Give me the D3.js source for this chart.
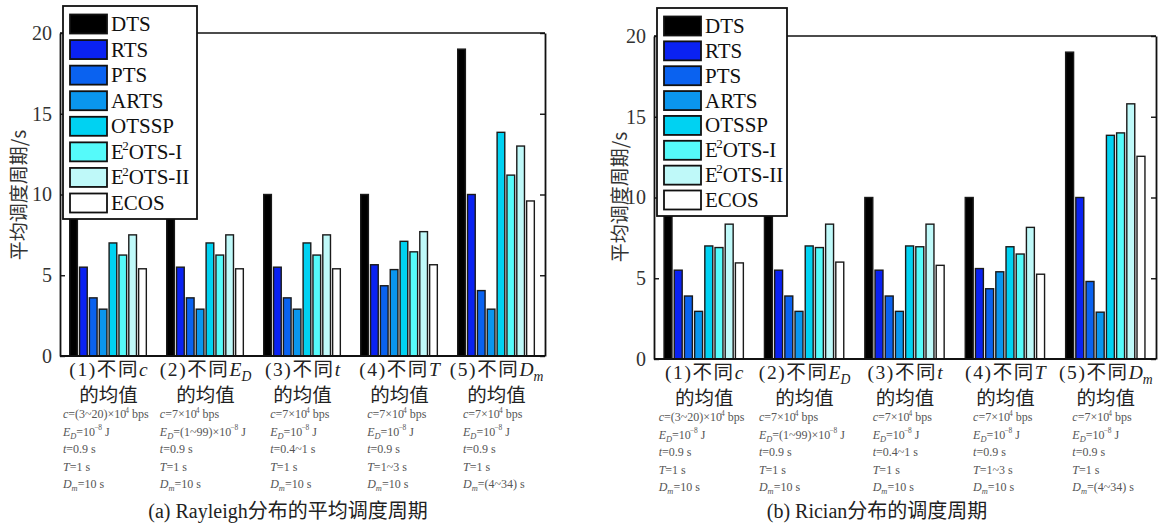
<!DOCTYPE html>
<html><head><meta charset="utf-8">
<script src="https://cdn.jsdelivr.net/npm/d3@7"></script>
<style>
html,body{margin:0;padding:0;background:#fff;}
svg{display:block;}
.serif{font-family:"Liberation Serif","Times New Roman","DejaVu Serif","Noto Sans CJK SC",serif;}
.cjk{font-family:"Noto Sans CJK SC","Liberation Serif",sans-serif;}
.it{font-style:italic;font-family:"Liberation Serif","Times New Roman","DejaVu Serif",serif;}
</style></head>
<body>
<svg id="chart" width="1162" height="525"></svg>
<script>
// ---------------- data ----------------
const seriesNames = ["DTS","RTS","PTS","ARTS","OTSSP","E^{2}OTS-I","E^{2}OTS-II","ECOS"];
const seriesColors = ["#000000","#0a22f2","#0a62f0","#0a96ee","#00d2f2","#55fafa","#bff9f9","#ffffff"];
const categories = ["(1)不同$c$","(2)不同$E$_{D}","(3)不同$t$","(4)不同$T$","(5)不同$D$_{m}"];
const categoryLine2 = "的均值";
const yTicks = [0,5,10,15,20];
const paramLines = [
  ["$c$=(3~20)×10^{4} bps","$E$_{D}=10^{−8} J","$t$=0.9 s","$T$=1 s","$D$_{m}=10 s"],
  ["$c$=7×10^{4} bps","$E$_{D}=(1~99)×10^{−8} J","$t$=0.9 s","$T$=1 s","$D$_{m}=10 s"],
  ["$c$=7×10^{4} bps","$E$_{D}=10^{−8} J","$t$=0.4~1 s","$T$=1 s","$D$_{m}=10 s"],
  ["$c$=7×10^{4} bps","$E$_{D}=10^{−8} J","$t$=0.9 s","$T$=1~3 s","$D$_{m}=10 s"],
  ["$c$=7×10^{4} bps","$E$_{D}=10^{−8} J","$t$=0.9 s","$T$=1 s","$D$_{m}=(4~34) s"]
];
// Rayleigh (a): one array per series, one value per category
const rayleighDTS    = [10, 10, 10, 10, 19.0];
const rayleighRTS    = [5.5, 5.5, 5.5, 5.65, 10];
const rayleighPTS    = [3.6, 3.6, 3.6, 4.35, 4.05];
const rayleighARTS   = [2.9, 2.9, 2.9, 5.35, 2.9];
const rayleighOTSSP  = [7.0, 7.0, 7.0, 7.1, 13.85];
const rayleighE2I    = [6.25, 6.25, 6.25, 6.45, 11.2];
const rayleighE2II   = [7.5, 7.5, 7.5, 7.7, 13.0];
const rayleighECOS   = [5.4, 5.4, 5.4, 5.65, 9.6];
// Rician (b)
const ricianDTS   = [10, 10, 10, 10, 19.0];
const ricianRTS   = [5.5, 5.5, 5.5, 5.6, 10];
const ricianPTS   = [3.9, 3.9, 3.9, 4.35, 4.8];
const ricianARTS  = [2.95, 2.95, 2.95, 5.4, 2.9];
const ricianOTSSP = [7.0, 7.0, 7.0, 6.95, 13.85];
const ricianE2I   = [6.9, 6.9, 6.95, 6.5, 14.0];
const ricianE2II  = [8.35, 8.35, 8.35, 8.15, 15.8];
const ricianECOS  = [5.95, 6.0, 5.8, 5.25, 12.55];

const rayleighValues = [rayleighDTS,rayleighRTS,rayleighPTS,rayleighARTS,rayleighOTSSP,rayleighE2I,rayleighE2II,rayleighECOS];
const ricianValues = [ricianDTS,ricianRTS,ricianPTS,ricianARTS,ricianOTSSP,ricianE2I,ricianE2II,ricianECOS];
const yLabel = "平均调度周期/s";
const captionA = "(a) Rayleigh分布的平均调度周期";
const captionB = "(b) Rician分布的调度周期";

// ---------------- layout ----------------
const svg = d3.select("#chart");
const SERIF_FAM = '"Liberation Serif","Times New Roman","DejaVu Serif",serif';

const panels = [
  {values: rayleighValues, x0:60, x1:545, y0:33, y1:356,
   legend:{x:63, y:6, w:134, h:213}, ylab:{x:17, y:195}, caption:{x:288, y:518, text:captionA}},
  {values: ricianValues, x0:654, x1:1156, y0:36, y1:359,
   legend:{x:657, y:8, w:130, h:208}, ylab:{x:618, y:197}, caption:{x:877, y:518, text:captionB}}
];

function rich(sel, str, fs, ls) {
  const re = /\$([^$]+)\$|_\{([^}]*)\}|\^\{([^}]*)\}|([^$_^]+)/g;
  let m, shift = 0;
  while ((m = re.exec(str))) {
    let t, size = fs, target = 0, italic = false, dx = 0;
    if (m[1] != null) { t = m[1]; italic = true; }
    else if (m[2] != null) { t = m[2]; italic = true; size = fs*0.7; target = fs*0.25; }
    else if (m[3] != null) { t = m[3]; size = fs*0.62; target = -fs*0.42; dx = -fs*0.08; }
    else t = m[4];
    const ts = sel.append("tspan").attr("dy", target - shift).style("font-size", size + "px").text(t);
    if (dx) ts.attr("dx", dx);
    if (italic) ts.attr("class","it");
    else if (ls) ts.style("letter-spacing", ls + "px");
    shift = target;
  }
}

panels.forEach(p => {
  const g = svg.append("g");
  const x0 = d3.scaleBand().domain(d3.range(categories.length)).range([p.x0, p.x1]).paddingInner(0).paddingOuter(0);
  const bw = x0.bandwidth();
  const x1 = d3.scaleBand().domain(d3.range(seriesNames.length)).range([bw*0.1, bw*0.89]).paddingInner(0.22).paddingOuter(0);
  const y = d3.scaleLinear().domain([0,20]).range([p.y1, p.y0]);

  // bars
  seriesNames.forEach((s, si) => {
    g.append("g").selectAll("rect").data(p.values[si]).join("rect")
      .attr("x", (d,i) => x0(i) + x1(si))
      .attr("y", d => y(d))
      .attr("width", x1.bandwidth())
      .attr("height", d => y(0) - y(d))
      .attr("fill", seriesColors[si])
      .attr("stroke", "#1a1a1a")
      .attr("stroke-width", 1.4);
  });

  // frame
  g.append("line").attr("x1",p.x0).attr("x2",p.x1).attr("y1",p.y0).attr("y2",p.y0).attr("stroke","#111").attr("stroke-width",1.6);
  g.append("line").attr("x1",p.x0).attr("x2",p.x1).attr("y1",p.y1).attr("y2",p.y1).attr("stroke","#111").attr("stroke-width",1.8);

  const ax = g.append("g").attr("transform",`translate(${p.x0},0)`)
    .call(d3.axisLeft(y).tickValues(yTicks).tickSizeInner(-5).tickSizeOuter(0).tickPadding(8));
  ax.attr("font-family", null).attr("font-size", null);
  ax.select(".domain").attr("stroke","#111").attr("stroke-width",1.8);
  ax.selectAll(".tick line").attr("stroke","#111").attr("stroke-width",1.4);
  ax.selectAll(".tick text").style("font-family",SERIF_FAM).style("font-size","20px").attr("fill","#333");

  const ar = g.append("g").attr("transform",`translate(${p.x1},0)`)
    .call(d3.axisRight(y).tickValues(yTicks).tickSizeInner(-5).tickSizeOuter(0).tickFormat(""));
  ar.select(".domain").attr("stroke","#111").attr("stroke-width",1.8);
  ar.selectAll(".tick line").attr("stroke","#111").attr("stroke-width",1.4);

  // y label
  g.append("text").attr("transform",`translate(${p.ylab.x},${p.ylab.y}) rotate(-90)`)
    .attr("text-anchor","middle").attr("dominant-baseline","central")
    .attr("class","cjk").style("font-size","19px").attr("fill","#333").text(yLabel);

  // category labels
  categories.forEach((c,i) => {
    const cx = x0(i) + bw/2;
    const t1 = g.append("text").attr("x",cx).attr("y",p.y1+20).attr("text-anchor","middle")
      .attr("class","serif").attr("fill","#222");
    rich(t1, c, 19.5, 1.6);
    g.append("text").attr("x",cx).attr("y",p.y1+46).attr("text-anchor","middle")
      .attr("class","cjk").style("font-size","19.5px").attr("fill","#222").text(categoryLine2);
    // parameter block
    const blk = g.append("g");
    paramLines[i].forEach((ln,k) => {
      const t = blk.append("text").attr("x",0).attr("y",p.y1+62+k*17.5)
        .attr("class","serif").attr("fill","#555");
      rich(t, ln, 12);
    });
    const bb = blk.node().getBBox();
    blk.attr("transform",`translate(${cx - bb.width/2 - 2},0)`);
  });

  // caption
  g.append("text").attr("x",p.caption.x).attr("y",p.caption.y).attr("text-anchor","middle")
    .attr("class","serif").style("font-size","20px").attr("fill","#222").text(p.caption.text);

  // legend
  const L = p.legend;
  const lg = g.append("g");
  lg.append("rect").attr("x",L.x).attr("y",L.y).attr("width",L.w).attr("height",L.h)
    .attr("fill","#fff").attr("stroke","#111").attr("stroke-width",1.8);
  const ly = d3.scalePoint().domain(d3.range(seriesNames.length)).range([L.y+18, L.y+L.h-16]);
  seriesNames.forEach((s,si) => {
    lg.append("rect").attr("x",L.x+7).attr("y",ly(si)-9.5).attr("width",37).attr("height",19)
      .attr("fill",seriesColors[si]).attr("stroke","#111").attr("stroke-width",1.8);
    const t = lg.append("text").attr("x",L.x+48).attr("y",ly(si)+7)
      .attr("class","serif").attr("fill","#111");
    rich(t, s, 21);
  });
});
</script>
</body></html>
